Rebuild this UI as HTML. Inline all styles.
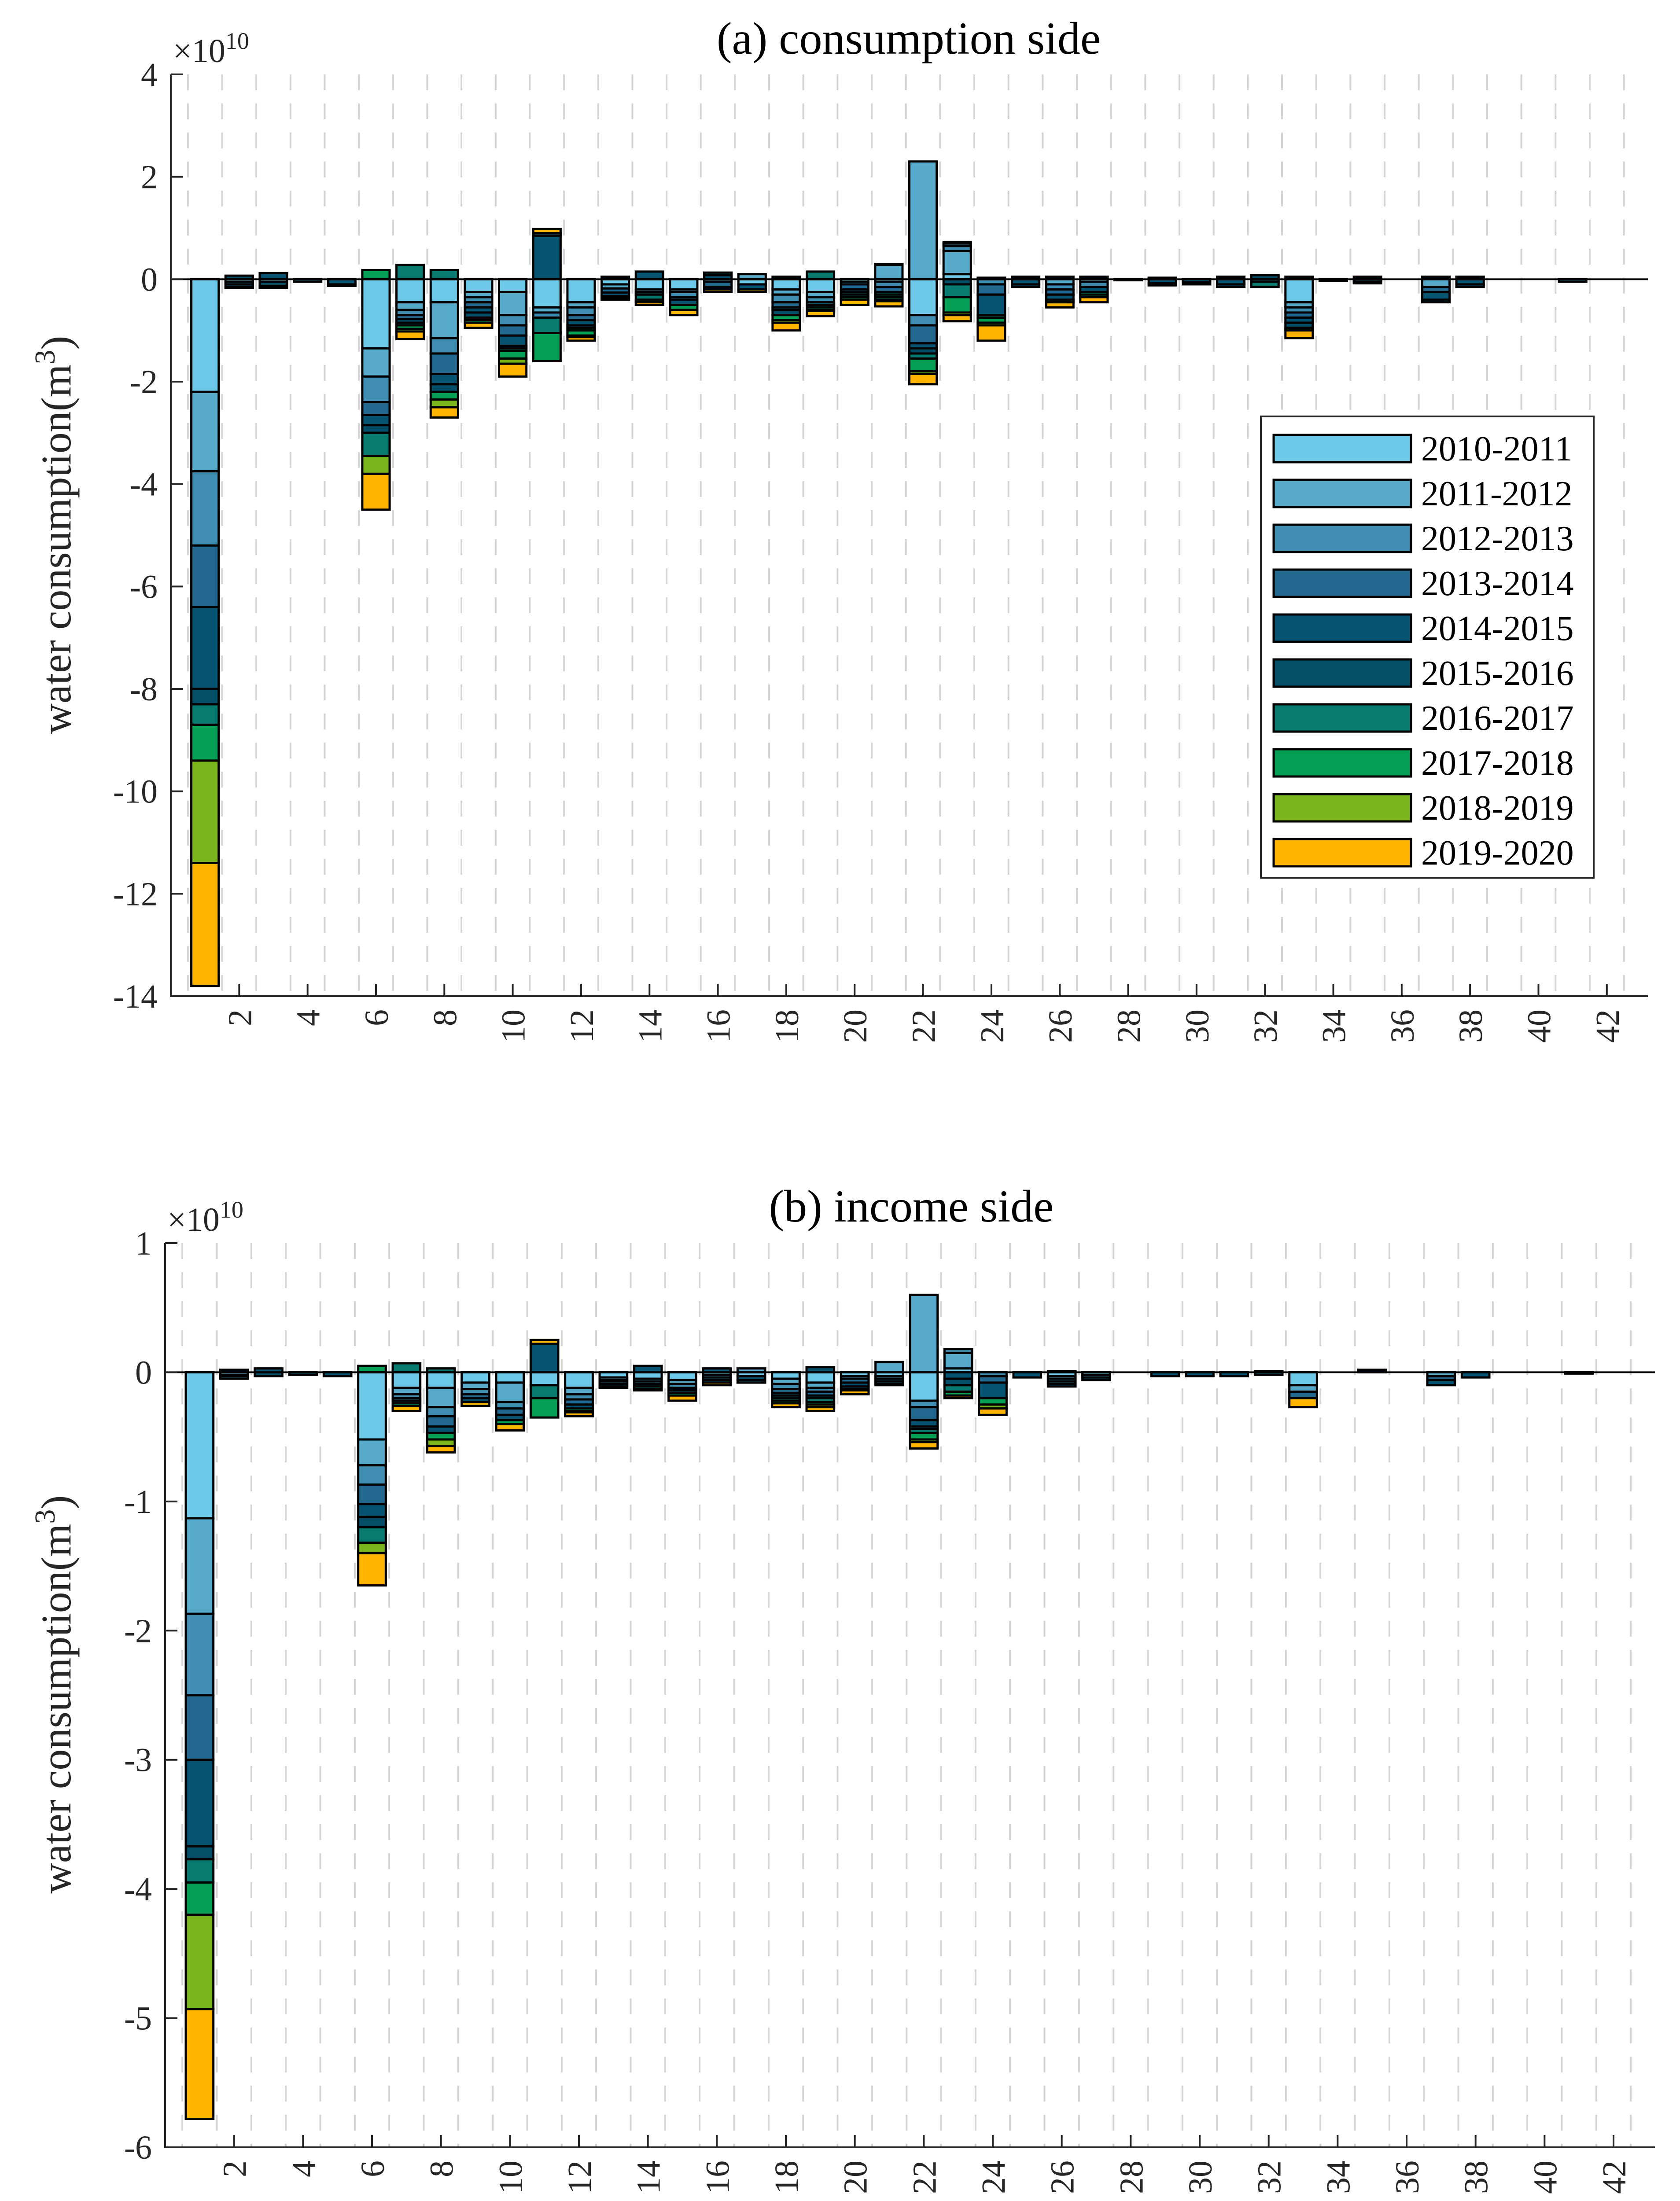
<!DOCTYPE html>
<html><head><meta charset="utf-8"><style>
html,body{margin:0;padding:0;background:#fff;width:3816px;height:5198px;overflow:hidden;}
svg{display:block;position:absolute;left:0;top:0;font-family:"Liberation Serif",serif;}
</style></head><body>
<svg id="chart" width="3816" height="5198" viewBox="0 0 3816 5198" xmlns="http://www.w3.org/2000/svg">
<rect x="0" y="0" width="3816" height="5198" fill="#fff"/>
</svg>
<script>
const sectors = [1,2,3,4,5,6,7,8,9,10,11,12,13,14,15,16,17,18,19,20,21,22,23,24,25,26,27,28,29,30,31,32,33,34,35,36,37,38,39,40,41,42];
const seriesNames = ["2010-2011","2011-2012","2012-2013","2013-2014","2014-2015","2015-2016","2016-2017","2017-2018","2018-2019","2019-2020"];
const xTickLabels = [2,4,6,8,10,12,14,16,18,20,22,24,26,28,30,32,34,36,38,40,42];
const yTicksTop = [4,2,0,-2,-4,-6,-8,-10,-12,-14];
const yTicksBottom = [1,0,-1,-2,-3,-4,-5,-6];

// (a) consumption side, units 1e10 m3
const top1 = [-2.2,-0.05,-0.05,0,0,-1.35,-0.45,-0.45,-0.25,-0.25, -0.55,-0.45,-0.1,-0.2,-0.2,0,-0.1,-0.2,-0.25,-0.05, -0.05,-0.7,0.1,0,0,0.05,-0.05,0,0,0, 0,0,-0.45,0,0,0,0.05,0,0,0,0,0];
const top2 = [-1.55,0,0,0,0,-0.55,-0.15,-0.7,-0.1,-0.45, -0.1,-0.1,-0.08,-0.05,-0.05,0,0.1,-0.1,-0.1,0, 0.28,2.3,0.45,0,0,-0.1,0,0,0,0, 0,0,-0.1,0,0,0,-0.15,0,0,0,0,0];
const top3 = [-1.45,0,0,0,0,-0.5,-0.1,-0.3,-0.1,-0.2, -0.1,-0.15,0,0,-0.1,-0.05,0,-0.15,-0.1,-0.05, -0.1,-0.2,0.1,-0.1,0,-0.1,-0.1,0,0,0, 0,0,-0.1,0,0,0,0,0,0,0,0,0];
const top4 = [-1.2,-0.05,0,0,0,-0.25,-0.08,-0.4,-0.1,-0.2, 0,-0.1,-0.08,0,-0.05,-0.1,0,-0.1,-0.05,-0.1, -0.1,-0.35,0.05,-0.2,0.05,-0.1,0.05,0,0.03,0, 0.05,0,-0.1,0,0,0,-0.1,0.05,0,0,0,0];
const top5 = [-1.6,-0.05,0.12,-0.05,-0.1,-0.2,-0.07,-0.2,-0.1,-0.2, 0.85,-0.1,-0.07,0.15,-0.1,0.08,-0.1,-0.05,-0.05,-0.05, -0.05,-0.1,0.03,-0.4,-0.1,-0.1,-0.1,-0.02,-0.08,-0.06, -0.1,-0.05,-0.1,-0.03,-0.05,0,-0.15,-0.1,0,0,-0.05,0];
const top6 = [-0.3,0.07,-0.08,0,-0.03,-0.15,-0.05,-0.15,-0.1,-0.05, 0.05,-0.05,0.05,-0.05,0,-0.05,0,-0.1,0,-0.05, 0.02,-0.1,-0.1,0.03,-0.05,0,0,0,-0.04,-0.04, -0.05,0.08,-0.1,0,0,0,-0.05,-0.05,0,0,0,0];
const top7 = [-0.4,0,-0.04,0,0,-0.45,0.28,0.18,-0.05,-0.05, -0.3,-0.05,-0.04,-0.1,0,0.05,0,0.05,0.15,-0.05, -0.05,-0.1,-0.25,-0.05,0,0,-0.05,0,0,0, 0,-0.1,0.05,0,0.05,0,0,0,0,0,0,0];
const top8 = [-0.7,0,0,0,0,0.18,-0.07,-0.15,-0.05,-0.15, -0.55,-0.1,-0.03,-0.05,-0.1,0,0,-0.1,-0.05,-0.05, -0.05,-0.25,-0.3,-0.1,0,-0.05,-0.05,0,0,0, 0,0,0,0,-0.03,0,0,0,0,0,0,0];
const top9 = [-2.0,0,0,0,0,-0.35,-0.05,-0.15,0,-0.1, 0,-0.03,0,0,0,0,0,-0.05,-0.02,0, -0.03,-0.05,-0.05,-0.05,0,0,0,0,0,0, 0,0,-0.05,0,0,0,0,0,0,0,0,0];
const top10 = [-2.4,-0.02,0,0,0,-0.7,-0.15,-0.2,-0.1,-0.25, 0.08,-0.07,0,-0.05,-0.1,-0.05,-0.05,-0.15,-0.1,-0.1, -0.1,-0.2,-0.12,-0.3,0,-0.1,-0.1,0,0,0, 0,0,-0.15,0,0,0,0,0,0,0,0,0];

// (b) income side, units 1e10 m3
const bot1 = [-1.13,-0.02,0,0,0,-0.52,-0.12,-0.12,-0.08,-0.08, -0.1,-0.12,-0.04,-0.05,-0.06,-0.02,-0.03,-0.05,-0.08,-0.03, -0.03,-0.22,0.03,0,0,-0.03,-0.02,0,0,0, 0,0,-0.1,0,0,0,0,0,0,0,0,0];
const bot2 = [-0.74,0,0,0,0,-0.2,-0.05,-0.15,-0.05,-0.15, 0,-0.05,-0.02,-0.02,-0.03,0,0.03,-0.04,-0.04,0, 0.08,0.6,0.12,0,0,-0.02,0,0,0,0, 0,0,-0.05,0,0,0,-0.03,0,0,0,0,0];
const bot3 = [-0.63,0,0,0,0,-0.15,-0.03,-0.07,-0.04,-0.05, 0,-0.04,-0.01,0,-0.03,-0.02,0,-0.04,-0.03,-0.02, -0.02,-0.05,0.03,-0.03,0,-0.02,-0.02,0,0,0, 0,0,0,0,0,0,0,0,0,0,0,0];
const bot4 = [-0.5,-0.01,0,0,0,-0.15,-0.02,-0.08,-0.03,-0.05, 0,-0.04,-0.02,-0.02,-0.02,-0.02,0,-0.03,-0.03,-0.03, -0.02,-0.1,0,-0.05,0,-0.02,0,0,0,0, 0,0,-0.05,0,0,0,-0.03,0,0,0,0,0];
const bot5 = [-0.67,-0.02,0.03,-0.02,-0.03,-0.1,-0.02,-0.05,-0.03,-0.04, 0.22,-0.03,-0.02,0.05,-0.02,0.03,-0.03,-0.02,-0.02,-0.03, -0.02,-0.05,-0.05,-0.12,-0.04,-0.02,-0.02,0,-0.03,-0.03, -0.03,-0.02,0,0,0.02,0,-0.04,-0.04,0,0,-0.01,0];
const bot6 = [-0.1,0.02,-0.03,0,0,-0.08,0,0,0,0, 0,0,0,-0.02,0,-0.02,-0.02,-0.02,0.04,-0.02, 0,-0.02,-0.05,0,0,0.01,0,0,0,0, 0,0,0,0,0,0,0,0,0,0,0,0];
const bot7 = [-0.18,0,0,0,0,-0.12,0.07,0.03,0,0, -0.1,0,0,-0.02,0,0,0,-0.02,-0.03,0, 0,-0.03,-0.05,0,0,0,0,0,0,0, 0,0.01,0,0,0,0,0,0,0,0,0,0];
const bot8 = [-0.25,0,0,0,0,0.05,-0.02,-0.05,0,-0.03, -0.15,-0.02,0,-0.01,-0.02,0,0,-0.02,-0.02,-0.01, 0,-0.05,-0.03,-0.05,0,0,0,0,0,0, 0,0,0,0,0,0,0,0,0,0,0,0];
const bot9 = [-0.73,0,0,0,0,-0.08,0,-0.05,0,0, 0,-0.01,0,0,0,0,0,0,-0.02,0, 0,-0.02,0,-0.03,0,0,0,0,0,0, 0,0,0,0,0,0,0,0,0,0,0,0];
const bot10 = [-0.85,0,0,0,0,-0.25,-0.04,-0.05,-0.03,-0.05, 0.03,-0.03,-0.01,0,-0.04,-0.02,0,-0.03,-0.03,-0.03, -0.01,-0.05,-0.02,-0.05,0,0,0,0,0,0, 0,0,-0.07,0,0,0,0,0,0,0,0,0];

const colors = ["#6ec8e8","#58aacb","#3f8db0","#23698f","#075372","#054e68","#087a70","#05a055","#7ab51d","#ffb400"];
const NS = "http://www.w3.org/2000/svg";
const svg = document.getElementById("chart");
function mk(tag, attrs, parent, txt){
  const e = document.createElementNS(NS, tag);
  for (const k in attrs) e.setAttribute(k, attrs[k]);
  if (txt !== undefined) e.textContent = txt;
  (parent || svg).appendChild(e);
  return e;
}

function drawPanel(p){
  const g = mk("g", {});
  
  
  const xS = v => p.L + (v - 0) / 43.2 * (p.R - p.L);
  const yS = v => p.T + (p.ymax - v) / (p.ymax - p.ymin) * (p.B - p.T);
  for (let k = 0; k <= 43; k++) {
    const gx = xS(k + 0.5);
    if (gx > p.R) break;
    const l = mk("line", {x1:gx, x2:gx, y1:p.T, y2:p.B, stroke:"#d4d4d4", "stroke-width":4, "stroke-dasharray":"36,30"}, g);
    
    
  }
  const bw = 0.8;
  sectors.forEach((s, i) => {
    let pos = 0, neg = 0;
    p.series.forEach((arr, j) => {
      const v = arr[i];
      if (!v) return;
      let y0, y1;
      if (v > 0) { y0 = pos; y1 = pos + v; pos = y1; } else { y0 = neg; y1 = neg + v; neg = y1; }
      const top = yS(Math.max(y0, y1)), bot = yS(Math.min(y0, y1));
      const r = mk("rect", {x:xS(s - bw/2), y:top, width:xS(s + bw/2) - xS(s - bw/2), height:Math.max(bot - top, 1), fill:colors[j], stroke:"#000", "stroke-width":5}, g);
      
      
    });
  });
  const z = mk("line", {x1:p.L, x2:p.R, y1:yS(0), y2:yS(0), stroke:"#000", "stroke-width":4}, g);
  
  
  const ax = mk("path", {d:`M${p.L},${p.T} L${p.L},${p.B} L${p.R},${p.B}`, fill:"none", stroke:"#262626", "stroke-width":4}, g);
  
  
  p.yticks.forEach(t => {
    const y = yS(t);
    mk("line", {x1:p.L, x2:p.L + 28, y1:y, y2:y, stroke:"#262626", "stroke-width":4}, g);
    const tl = mk("text", {x:p.L - 30, y:y + 26, "font-size":76, "text-anchor":"end", fill:"#262626"}, g, String(t));
    
    
  });
  xTickLabels.forEach(t => {
    const x = xS(t);
    mk("line", {x1:x, x2:x, y1:p.B, y2:p.B - 28, stroke:"#262626", "stroke-width":4}, g);
    const tl = mk("text", {x:x + 27, y:p.B + 30, "font-size":76, "text-anchor":"end", fill:"#262626", transform:`rotate(-90 ${x + 27} ${p.B + 30})`}, g, String(t));
    
    
  });
  const ex = mk("text", {x:p.L + 5, y:p.T - 28, "font-size":76, fill:"#262626"}, g);
  
  
  mk("tspan", {}, ex, "\u00d710");
  mk("tspan", {"font-size":54, dy:-30}, ex, "10");
  const ti = mk("text", {x:p.titleX, y:p.titleY, "font-size":104, "text-anchor":"middle", fill:"#000"}, g, p.title);
  
  
  const yl = mk("text", {x:0, y:0, "font-size":96, "text-anchor":"middle", fill:"#262626", transform:`translate(160 ${p.ylabelY}) rotate(-90)`}, g);
  
  
  mk("tspan", {}, yl, "water consumption(m");
  mk("tspan", {"font-size":66, dy:-36}, yl, "3");
  mk("tspan", {dy:36}, yl, ")");
}

drawPanel({name:"panel-consumption-side", L:388, R:3743, T:169, B:2263, ymin:-14, ymax:4, yticks:yTicksTop,
  series:[top1,top2,top3,top4,top5,top6,top7,top8,top9,top10], title:"(a) consumption side", titleX:2064, titleY:122, ylabelY:1215});
drawPanel({name:"panel-income-side", L:375, R:3759, T:2824, B:4878, ymin:-6, ymax:1, yticks:yTicksBottom,
  series:[bot1,bot2,bot3,bot4,bot5,bot6,bot7,bot8,bot9,bot10], title:"(b) income side", titleX:2070, titleY:2775, ylabelY:3849});

const lg = mk("g", {});


const lb = mk("rect", {x:2864, y:946, width:756, height:1048, fill:"#fff", stroke:"#262626", "stroke-width":4}, lg);


seriesNames.forEach((n, j) => {
  const cy = 1019 + j * 102;
  const sw = mk("rect", {x:2893, y:cy - 31, width:312, height:62, fill:colors[j], stroke:"#000", "stroke-width":5}, lg);
  
  
  const t = mk("text", {x:3228, y:cy + 27, "font-size":80, fill:"#000"}, lg, n);
  
  
});

const xl = mk("text", {x:2070, y:5140, "font-size":100, "text-anchor":"middle", fill:"#262626"}, svg, "sector");


</script>
</body></html>
